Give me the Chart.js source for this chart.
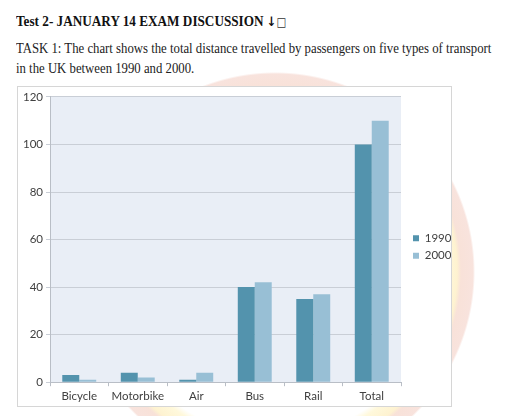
<!DOCTYPE html>
<html>
<head>
<meta charset="utf-8">
<script src="https://cdn.jsdelivr.net/npm/chart.js@4"></script>
<style>
  html, body { margin:0; padding:0; width:512px; height:416px; overflow:hidden; background:#fff; }
  #wm { position:absolute; left:75px; top:72px; width:400px; height:400px;
        background: radial-gradient(circle closest-side, rgba(255,255,255,0) 0%, rgba(255,255,255,0) 82%, rgba(255,243,190,0.55) 85%, rgba(253,232,170,0.55) 91%, rgba(240,190,170,0.45) 93%, rgba(238,185,170,0.4) 99%, rgba(255,255,255,0) 100%); }
  #title { position:absolute; left:16px; top:13px; font-family:"Liberation Serif","Times New Roman",serif; font-weight:bold; font-size:15px; color:#111; white-space:nowrap; transform:scaleX(0.88); transform-origin:0 0; }
  #title .ar { font-family:"DejaVu Sans",sans-serif; font-weight:bold; font-size:13px; }
  #title .bx { font-family:"DejaVu Sans",sans-serif; font-weight:normal; font-size:12px; color:#333; }
  #task { position:absolute; left:16px; top:38px; font-family:"Liberation Serif","Times New Roman",serif; font-size:14.5px; line-height:20px; color:#222; white-space:nowrap; transform:scaleX(0.88); transform-origin:0 0; }
  #box { position:absolute; left:17px; top:86px; width:433px; height:319px; background:#fff; border:1px solid #d6d6d6; }
  #box canvas { position:absolute; left:0; top:0; }
</style>
</head>
<body>
<div id="wm"></div>
<div id="title">Test 2- JANUARY 14 EXAM DISCUSSION <span class="ar">↓</span><span class="bx">□</span></div>
<div id="task">TASK 1: The chart shows the total distance travelled by passengers on five types of transport<br>in the UK between 1990 and 2000.</div>
<div id="box"><canvas id="c" width="433" height="319"></canvas></div>
<script>
const categories = ["Bicycle", "Motorbike", "Air", "Bus", "Rail", "Total"];
const values1990 = [3, 4, 1, 40, 35, 100];
const values2000 = [1, 2, 4, 42, 37, 110];
const seriesLabels = ["1990", "2000"];
const yTicks = [0, 20, 40, 60, 80, 100, 120];

const plotBg = {
  id: 'plotBg',
  beforeDraw(chart) {
    const {ctx, chartArea:a} = chart;
    ctx.save();
    ctx.fillStyle = '#e9eef6';
    ctx.fillRect(a.left, a.top, a.right - a.left, a.bottom - a.top);
    ctx.restore();
  }
};

// fix legend column width and shift its items a little
const legendTweak = {
  id: 'legendTweak',
  beforeLayout(chart) {
    const lg = chart.legend;
    if (lg && !lg._tweaked) {
      const fit = lg.fit, draw = lg.draw;
      lg.fit = function () { fit.call(this); this.width = 50; };
      lg.draw = function () {
        const ctx = this.ctx; ctx.save(); ctx.translate(6, -4); draw.call(this); ctx.restore();
      };
      lg._tweaked = true;
    }
  }
};

const tickFont = { family: 'Lato', size: 11.5 };

new Chart(document.getElementById('c'), {
  type: 'bar',
  data: {
    labels: categories,
    datasets: [
      { label: seriesLabels[0], data: values1990, backgroundColor: '#5393ad' },
      { label: seriesLabels[1], data: values2000, backgroundColor: '#98bfd5' }
    ]
  },
  options: {
    responsive: false,
    animation: false,
    devicePixelRatio: 1,
    layout: { padding: { top: 9, right: 0, bottom: 0, left: 0 } },
    datasets: { bar: { categoryPercentage: 0.58, barPercentage: 1.0 } },
    plugins: {
      legend: {
        position: 'right',
        align: 'center',
        labels: { boxWidth: 6, boxHeight: 6, padding: 6, color: '#404040', font: { family: 'Lato', size: 11.5 } }
      },
      tooltip: { enabled: false }
    },
    scales: {
      x: {
        grid: { drawOnChartArea: false, drawTicks: true, tickLength: 4, color: '#b9bec6', offset: true },
        border: { color: '#b9bec6' },
        ticks: { color: '#404040', font: tickFont, padding: 3, maxRotation: 0, autoSkip: false }
      },
      y: {
        min: 0, max: 120,
        afterBuildTicks(s) { s.ticks = yTicks.map(v => ({ value: v })); },
        afterFit(s) { s.width = 32; },
        grid: { color: '#c9ced6', tickLength: 4 },
        border: { color: '#b9bec6' },
        ticks: { color: '#404040', font: tickFont, padding: 3 }
      }
    }
  },
  plugins: [plotBg, legendTweak]
});
</script>
</body>
</html>
